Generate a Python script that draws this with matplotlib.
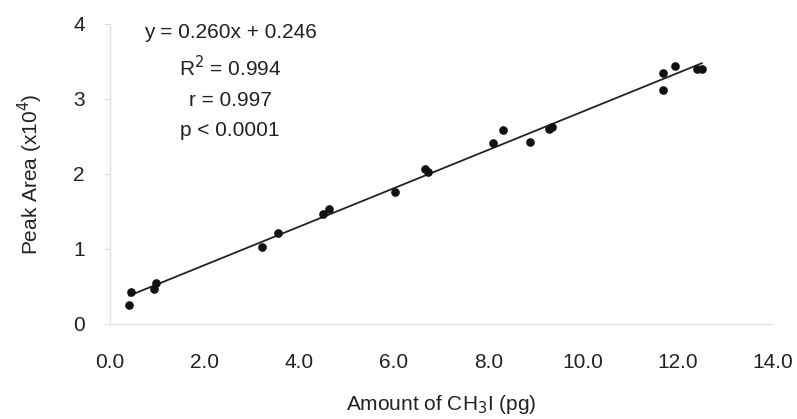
import numpy as np
import matplotlib
matplotlib.use("Agg")
import matplotlib.pyplot as plt

plt.rcParams['font.family'] = ['Liberation Sans', 'DejaVu Sans']

# Data
amount_pg = [0.44, 0.41, 0.97, 0.94, 3.21, 3.56, 4.51, 4.62, 6.03, 6.66, 6.73,
             8.10, 8.30, 8.88, 9.27, 9.34, 11.70, 11.70, 11.94, 12.40, 12.51]
peak_area = [0.43, 0.25, 0.55, 0.46, 1.03, 1.21, 1.47, 1.53, 1.76, 2.06, 2.03,
             2.41, 2.58, 2.43, 2.60, 2.63, 3.34, 3.12, 3.44, 3.40, 3.40]
x_ticks = [0, 2, 4, 6, 8, 10, 12, 14]
x_tick_labels = ["0.0", "2.0", "4.0", "6.0", "8.0", "10.0", "12.0", "14.0"]
y_ticks = [0, 1, 2, 3, 4]
stats_lines = ["y = 0.260x + 0.246", r"R$^2$ = 0.994", "r = 0.997", "p < 0.0001"]

fs = 15

fig = plt.figure(figsize=(7.97, 4.19), dpi=100)
ax = fig.add_axes([0.138, 0.227, 0.831, 0.716])

x = np.array(amount_pg)
y = np.array(peak_area)
slope, intercept = np.polyfit(x, y, 1)
xl = np.array([x.min(), x.max()])
ax.plot(xl, slope * xl + intercept, color='#222222', lw=1.3, zorder=2)
ax.plot(x, y, 'o', color='#111111', ms=5.2, zorder=3)

ax.set_xlim(0, 14)
ax.set_ylim(0, 4)
ax.set_xticks(x_ticks)
ax.set_xticklabels(x_tick_labels)
ax.set_yticks(y_ticks)

for side in ['top', 'right']:
    ax.spines[side].set_visible(False)
for side in ['left', 'bottom']:
    ax.spines[side].set_color('#e2e2e2')
    ax.spines[side].set_linewidth(1.0)

ax.tick_params(axis='x', length=0, pad=21, labelsize=fs, colors='#222222')
ax.tick_params(axis='y', length=4, width=0.8, color='#dddddd', pad=14,
               labelsize=fs, labelcolor='#222222')

ax.set_xlabel(r"Amount of CH$_3$I (pg)", fontsize=fs, color='#222222', labelpad=15)
ax.set_ylabel(r"Peak Area (x10$^4$)", fontsize=fs, color='#222222', labelpad=20)

ys = [33, 68, 100, 131]
for txt, py in zip(stats_lines, ys):
    fig.text(230 / 797, 1 - py / 419, txt, ha='center', va='center',
             fontsize=fs, color='#222222')

fig.savefig("out.png", dpi=100, facecolor='white')
